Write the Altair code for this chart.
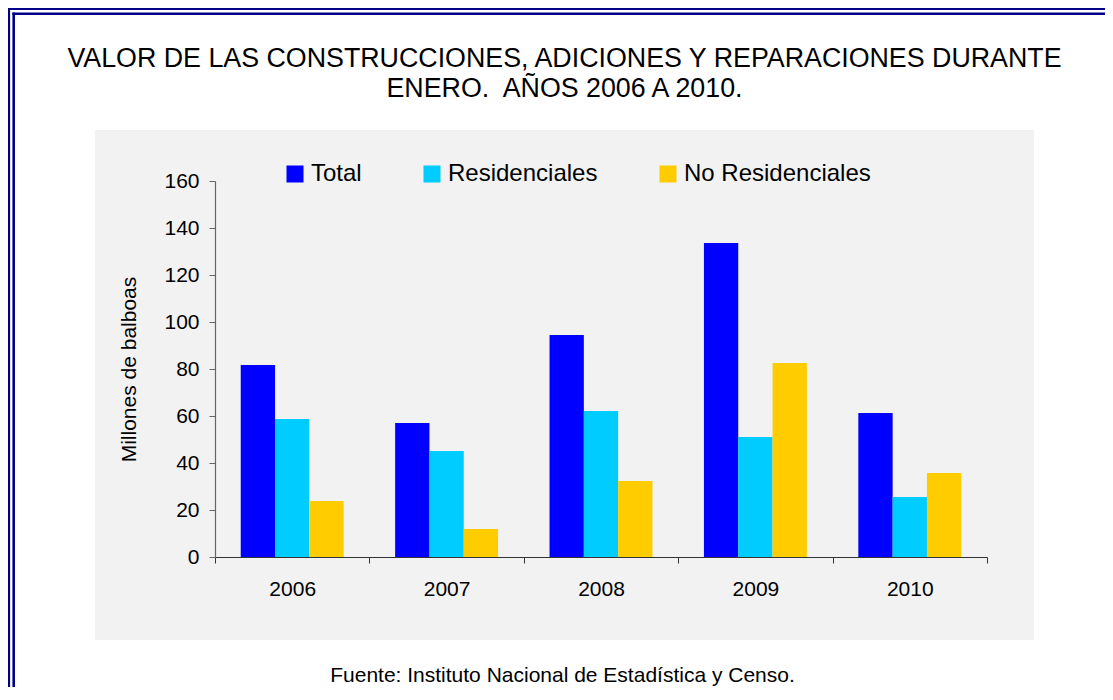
import altair as alt
import pandas as pd

years = ["2006", "2007", "2008", "2009", "2010"]
series = ["Total", "Residenciales", "No Residenciales"]
total = [81.7, 57.0, 94.5, 133.6, 61.3]
residenciales = [58.7, 45.1, 62.1, 51.1, 25.5]
no_residenciales = [23.8, 11.9, 32.3, 82.6, 35.7]
colors = ["#0000FF", "#00CCFF", "#FFCC00"]
y_ticks = [0, 20, 40, 60, 80, 100, 120, 140, 160]
title_lines = ["VALOR DE LAS CONSTRUCCIONES, ADICIONES Y REPARACIONES DURANTE",
               "ENERO.\u00a0 AÑOS 2006 A 2010."]
footer = "Fuente: Instituto Nacional de Estadística y Censo."
y_title = "Millones de balboas"

rows = []
for i, yr in enumerate(years):
    for s, vals in zip(series, [total, residenciales, no_residenciales]):
        rows.append({"year": yr, "serie": s, "valor": vals[i]})
df = pd.DataFrame(rows)

FONT = "Liberation Sans"
NAVY = "#00008B"


def one():
    return alt.Data(values=[{"k": 1}])


def hline(x0, y0, w):
    return alt.Chart(one()).mark_rule(color=NAVY, strokeWidth=w, strokeCap="square").encode(
        x=alt.value(x0), x2=alt.value(1200), y=alt.value(y0))


def vline(x0, y0, w):
    return alt.Chart(one()).mark_rule(color=NAVY, strokeWidth=w, strokeCap="square").encode(
        x=alt.value(x0), y=alt.value(y0), y2=alt.value(900))


border = [hline(-206, -172, 2.2), vline(-206, -172, 2.2),
          hline(-201.3, -167.3, 2.6), vline(-201.3, -167.3, 2.6)]

panel = alt.Chart(one()).mark_rect(fill="#F2F2F2").encode(
    x=alt.value(-120), x2=alt.value(819), y=alt.value(-51), y2=alt.value(459))

t1 = alt.Chart(one()).mark_text(font=FONT, fontSize=26.8, color="black", align="center",
                                baseline="alphabetic").encode(
    x=alt.value(349.5), y=alt.value(-114), text=alt.value(title_lines[0]))
t2 = alt.Chart(one()).mark_text(font=FONT, fontSize=26.8, color="black", align="center",
                                baseline="alphabetic").encode(
    x=alt.value(349.5), y=alt.value(-84), text=alt.value(title_lines[1]))

bars = alt.Chart(df).mark_bar().encode(
    x=alt.X("year:N", sort=years,
            scale=alt.Scale(paddingInner=0, paddingOuter=0),
            axis=alt.Axis(title=footer, labelAngle=0, labelFont=FONT, labelFontSize=21,
                          labelColor="black", labelPadding=15, tickSize=6, tickBand="extent",
                          domainColor="#333333", tickColor="#333333", domainWidth=1.2,
                          titleFont=FONT, titleFontSize=21, titleFontWeight="normal",
                          titleColor="black", titleX=347, titleY=124,
                          titleAlign="center", titleBaseline="alphabetic", zindex=2)),
    xOffset=alt.XOffset("serie:N", sort=series,
                        scale=alt.Scale(paddingInner=0, paddingOuter=0.75)),
    y=alt.Y("valor:Q", scale=alt.Scale(domain=[0, 160], nice=False),
            axis=alt.Axis(title=y_title, values=y_ticks, grid=False, labelFont=FONT,
                          labelFontSize=21, labelColor="black", labelPadding=10, tickSize=6,
                          domainColor="#666666", tickColor="#666666", domainWidth=1.2,
                          titleFont=FONT, titleFontSize=21, titleFontWeight="normal",
                          titleColor="black", titlePadding=24, zindex=2)),
    color=alt.Color("serie:N", sort=series,
                    scale=alt.Scale(domain=series, range=colors),
                    legend=alt.Legend(title=None, orient="none", legendX=68, legendY=-19,
                                      direction="horizontal", symbolType="square",
                                      symbolSize=289, symbolStrokeWidth=0,
                                      labelFont=FONT, labelFontSize=24, labelColor="black",
                                      labelLimit=400, labelOffset=4, columnPadding=58,
                                      padding=0, zindex=2)),
)

chart = alt.layer(*border, panel, bars, t1, t2).properties(
    width=772, height=376,
    autosize=alt.AutoSizeParams(type="none"),
    padding={"left": 207, "top": 173, "right": 118, "bottom": 130},
    background="white",
).configure_view(stroke=None)

chart.save("out.html", embed_options={"renderer": "svg", "actions": False})
